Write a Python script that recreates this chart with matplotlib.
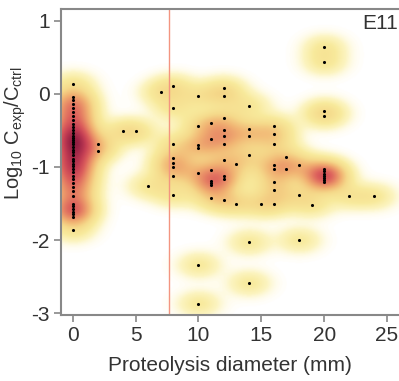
import numpy as np
import matplotlib
matplotlib.use("Agg")
import matplotlib.pyplot as plt
from matplotlib.colors import LinearSegmentedColormap

plt.rcParams['font.family'] = ['Liberation Sans', 'DejaVu Sans']
plt.rcParams['mathtext.fontset'] = 'custom'
plt.rcParams['mathtext.rm'] = 'Liberation Sans'
plt.rcParams['mathtext.it'] = 'Liberation Sans:italic'
plt.rcParams['axes.unicode_minus'] = False

# ---- data (proteolysis diameter mm, log10 Cexp/Cctrl) ----
y_d0 = [0.14, -0.04, -0.09, -0.14, -0.19, -0.25, -0.30, -0.36, -0.41, -0.46,
        -0.50, -0.54, -0.57, -0.60, -0.63, -0.66, -0.69, -0.73, -0.77, -0.80,
        -0.84, -0.89, -0.92, -0.96, -0.99, -1.03, -1.07, -1.12, -1.16, -1.22,
        -1.28, -1.33, -1.40, -1.50, -1.54, -1.57, -1.61, -1.64, -1.68, -1.86]
y_d2 = [-0.68, -0.78]
y_d4 = [-0.51]
y_d5 = [-0.51]
y_d6 = [-1.26]
y_d7 = [0.02]
y_d8 = [0.11, -0.19, -0.68, -0.88, -0.95, -1.00, -1.12, -1.38]
y_d10 = [-0.03, -0.44, -0.70, -0.74, -1.08, -2.34, -2.87]
y_d11 = [-0.40, -0.62, -1.04, -1.19, -1.22, -1.25, -1.43]
y_d12 = [0.08, -0.03, -0.33, -0.49, -0.58, -0.68, -0.90, -1.13, -1.16, -1.45]
y_d13 = [-0.96, -1.50]
y_d14 = [-0.16, -0.48, -0.58, -0.83, -2.03, -2.59]
y_d15 = [-1.51]
y_d16 = [-0.44, -0.55, -0.68, -0.97, -1.03, -1.20, -1.31, -1.50]
y_d17 = [-0.86, -1.03]
y_d18 = [-0.97, -1.39, -2.00]
y_d19 = [-1.52]
y_d20 = [0.64, 0.43, -0.23, -0.30, -1.03, -1.06, -1.09, -1.12, -1.15, -1.18, -1.21]
y_d22 = [-1.40]
y_d24 = [-1.40]

diam_groups = {0: y_d0, 2: y_d2, 4: y_d4, 5: y_d5, 6: y_d6, 7: y_d7, 8: y_d8,
               10: y_d10, 11: y_d11, 12: y_d12, 13: y_d13, 14: y_d14, 15: y_d15,
               16: y_d16, 17: y_d17, 18: y_d18, 19: y_d19, 20: y_d20, 22: y_d22,
               24: y_d24}
x_ticks = [0, 5, 10, 15, 20, 25]
y_ticks = [1, 0, -1, -2, -3]
threshold = 7.63
panel_label = "E11"

xs = np.concatenate([[k] * len(v) for k, v in diam_groups.items()]).astype(float)
ys = np.concatenate([v for v in diam_groups.values()]).astype(float)

xlim = (-0.95, 25.95)
ylim = (-3.02, 1.16)

# ---- density ----
sx, sy = 1.15, 0.12
gx = np.linspace(xlim[0], xlim[1], 500)
gy = np.linspace(ylim[0], ylim[1], 500)
GX, GY = np.meshgrid(gx, gy)
D = np.zeros_like(GX)
for x0, y0 in zip(xs, ys):
    D += np.exp(-((GX - x0) ** 2 / (2 * sx ** 2) + (GY - y0) ** 2 / (2 * sy ** 2)))

vmax = 9.3
stops = [(0.0, '#ffffff'), (0.15, '#fffcec'), (0.45, '#fcf4c0'), (1.0, '#f8ea9c'),
         (2.0, '#f5d98a'), (3.2, '#f1b473'), (4.5, '#e88a66'), (5.8, '#dc5f5c'),
         (7.2, '#c53f54'), (8.4, '#a52a4a'), (9.3, '#8a183e')]
cmap = LinearSegmentedColormap.from_list('heat', [(v / vmax, c) for v, c in stops])

fig = plt.figure(figsize=(3.99, 3.81), dpi=100)
ax = fig.add_axes([60.7 / 399, (381 - 314.7) / 381, (399 - 60.7) / 399, (314.7 - 9) / 381])
ax.imshow(D, extent=[xlim[0], xlim[1], ylim[0], ylim[1]], origin='lower', aspect='auto',
          cmap=cmap, vmin=0, vmax=vmax, interpolation='bilinear', zorder=0)
ax.axvline(threshold, color='#f39580', lw=1.0, zorder=1)
ax.scatter(xs, ys, s=5, color='black', zorder=3, linewidths=0)

ax.set_xlim(xlim)
ax.set_ylim(ylim)
ax.set_xticks(x_ticks)
ax.set_yticks(y_ticks)
for s in ['left', 'bottom', 'top']:
    ax.spines[s].set_color('#888888')
    ax.spines[s].set_linewidth(1.5)
ax.spines['right'].set_visible(False)
ax.tick_params(direction='out', length=5, width=1.2, color='#888888',
               labelsize=15, labelcolor='#333333', pad=3)
ax.tick_params(axis='y', pad=3)
ax.set_xlabel('Proteolysis diameter (mm)', fontsize=15, color='#333333', labelpad=8)
ax.set_ylabel(r'Log$_{10}$ C$_{\rm exp}$/C$_{\rm ctrl}$', fontsize=14.5,
              color='#333333')
ax.yaxis.set_label_coords(-0.098, 0.595)
ax.text(0.997, 0.985, panel_label, transform=ax.transAxes, ha='right', va='top',
        fontsize=15, color='#333333')

fig.savefig('out.png', dpi=100)
